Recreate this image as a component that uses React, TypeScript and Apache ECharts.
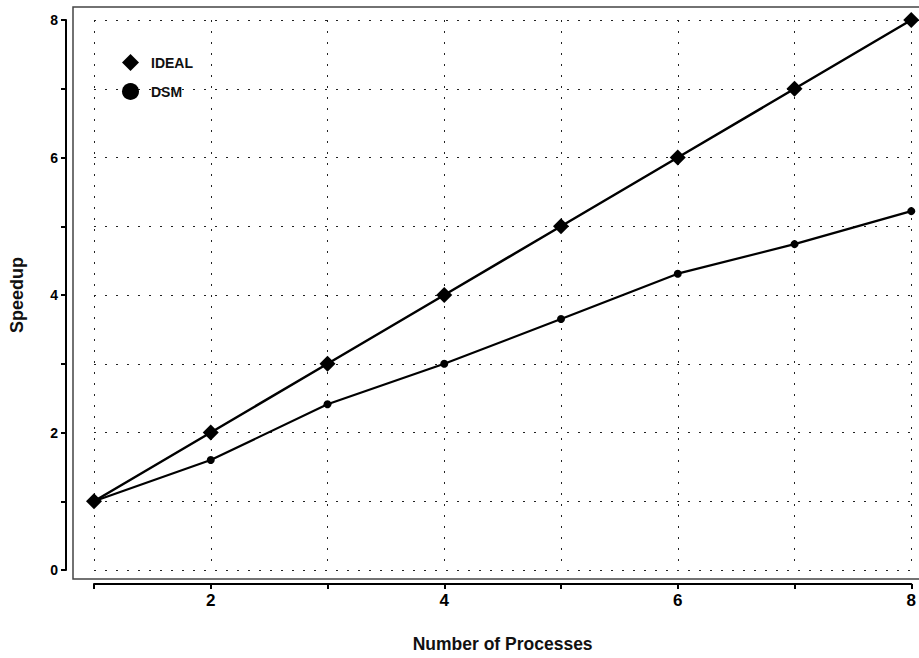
import React, { useEffect, useRef } from "react";
import * as echarts from "echarts";

const processes = [1, 2, 3, 4, 5, 6, 7, 8];
const idealSpeedup = [1, 2, 3, 4, 5, 6, 7, 8];
const dsmSpeedup = [1, 1.6, 2.41, 3.0, 3.65, 4.31, 4.74, 5.22];
const seriesNames = ["IDEAL", "DSM"];
const xAxisTitle = "Number of Processes";
const yAxisTitle = "Speedup";

const FONT = "'Liberation Sans', Arial, sans-serif";

export default function App() {
  const ref = useRef<HTMLDivElement>(null);
  useEffect(() => {
    if (!ref.current) return;
    const chart = echarts.init(ref.current, null, { renderer: "svg" });
    const gridLine = { show: true, lineStyle: { color: "#222", width: 1, type: [2, 9] as any } };
    chart.setOption({
      animation: false,
      backgroundColor: "#fff",
      grid: { left: 90, right: 6, top: 20, bottom: 83, containLabel: false },
      graphic: [
        {
          type: "rect",
          shape: { x: 73, y: 7, width: 850, height: 572 },
          style: { fill: "none", stroke: "#444", lineWidth: 1.5 },
          silent: true,
          z: -1,
        },
      ],
      legend: {
        left: 122,
        top: 54,
        padding: 0,
        orient: "vertical",
        itemWidth: 17,
        itemHeight: 17,
        itemGap: 12,
        textStyle: {
          fontFamily: FONT,
          fontSize: 14,
          fontWeight: "bold",
          color: "#111",
          padding: [0, 0, 0, 7],
        },
        data: [
          { name: seriesNames[0], icon: "diamond" },
          { name: seriesNames[1], icon: "circle" },
        ],
      },
      xAxis: {
        type: "value",
        min: 1,
        max: 8,
        interval: 1,
        offset: 14,
        name: xAxisTitle,
        nameLocation: "middle",
        nameGap: 51,
        nameTextStyle: { fontFamily: FONT, fontSize: 17.5, fontWeight: "bold", color: "#111" },
        axisLine: { show: true, onZero: false, lineStyle: { color: "#000", width: 2 } },
        axisTick: { show: true, length: 5, lineStyle: { color: "#000", width: 2 } },
        axisLabel: {
          fontFamily: FONT,
          fontSize: 17,
          fontWeight: "bold",
          color: "#000",
          margin: 8,
          formatter: (v: number) => (v % 2 === 0 ? String(v) : ""),
        },
        splitLine: gridLine,
      },
      yAxis: {
        type: "value",
        min: 0,
        max: 8,
        interval: 1,
        offset: 28,
        name: yAxisTitle,
        nameLocation: "middle",
        nameGap: 40,
        nameRotate: 90,
        nameTextStyle: { fontFamily: FONT, fontSize: 18, fontWeight: "bold", color: "#111" },
        axisLine: { show: true, onZero: false, lineStyle: { color: "#000", width: 2 } },
        axisTick: { show: true, length: 5, lineStyle: { color: "#000", width: 2 } },
        axisLabel: {
          fontFamily: FONT,
          fontSize: 14,
          fontWeight: "bold",
          color: "#000",
          margin: 8,
          formatter: (v: number) => (v % 2 === 0 ? String(v) : ""),
        },
        splitLine: gridLine,
      },
      series: [
        {
          name: seriesNames[1],
          type: "line",
          data: processes.map((p, i) => [p, dsmSpeedup[i]]),
          symbol: "circle",
          symbolSize: 8,
          lineStyle: { color: "#000", width: 2.2 },
          itemStyle: { color: "#000" },
          z: 2,
        },
        {
          name: seriesNames[0],
          type: "line",
          data: processes.map((p, i) => [p, idealSpeedup[i]]),
          symbol: "diamond",
          symbolSize: 16,
          lineStyle: { color: "#000", width: 2.5 },
          itemStyle: { color: "#000" },
          z: 3,
        },
      ],
    });
    return () => chart.dispose();
  }, []);
  return (
    <div
      ref={ref}
      style={{ position: "fixed", left: 0, top: 0, width: 919, height: 658 }}
    />
  );
}
